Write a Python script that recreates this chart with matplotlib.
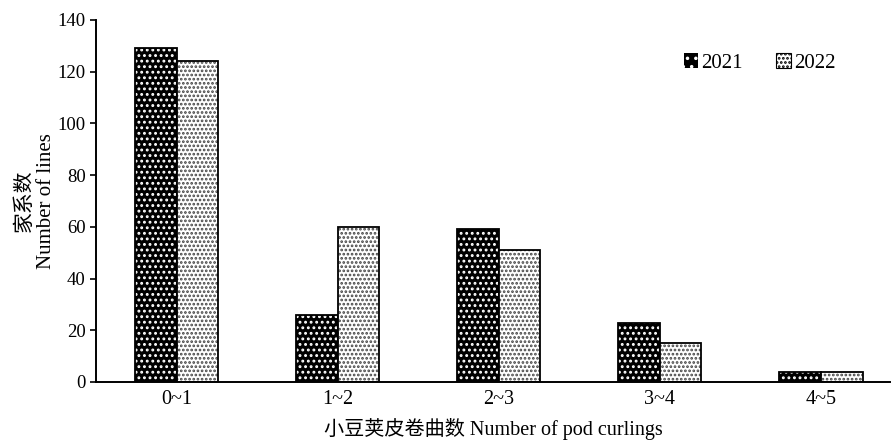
import matplotlib.pyplot as plt
import numpy as np

plt.rcParams['font.family'] = ['Liberation Serif', 'Noto Sans CJK SC']
plt.rcParams['hatch.linewidth'] = 1.3

cats = ['0~1', '1~2', '2~3', '3~4', '4~5']
y2021 = [129, 26, 59, 23, 4]
y2022 = [124, 60, 51, 15, 4]

fig = plt.figure(figsize=(8.94, 4.43), dpi=100)
ax = fig.add_axes([0.1074, 0.1377, 0.888, 0.8172])

x = np.arange(len(cats))
w = 0.26

# 2021: black with white dots
ax.bar(x - w/2, y2021, w, color='black', edgecolor='white', hatch='...', linewidth=0)
ax.bar(x - w/2, y2021, w, fill=False, edgecolor='black', linewidth=1.3)
# 2022: white with dense black dots
ax.bar(x + w/2, y2022, w, color='white', edgecolor='#444444', hatch='....', linewidth=0)
ax.bar(x + w/2, y2022, w, fill=False, edgecolor='black', linewidth=1.3)

# legend proxies
h1 = plt.Rectangle((0, 0), 1, 1, facecolor='black', edgecolor='white', hatch='..', linewidth=0)
h2 = plt.Rectangle((0, 0), 1, 1, facecolor='white', edgecolor='black', hatch='....', linewidth=0.8)
ax.legend([h1, h2], ['2021', '2022'], ncol=2, frameon=False, loc='upper right',
          bbox_to_anchor=(0.955, 0.96), fontsize=15, handlelength=0.7, handleheight=0.7,
          handletextpad=0.15, columnspacing=1.6)

ax.set_xlim(-0.5, 4.43)
ax.set_ylim(0, 140)
ax.set_yticks(range(0, 141, 20))
ax.set_xticks(x)
ax.set_xticklabels(cats)
ax.tick_params(axis='x', length=0, labelsize=14.5, pad=6)
ax.tick_params(axis='y', length=4, width=1.2, direction='out', labelsize=13.5)
for s in ['top', 'right']:
    ax.spines[s].set_visible(False)
for s in ['left', 'bottom']:
    ax.spines[s].set_linewidth(1.4)

ax.set_xlabel('小豆荚皮卷曲数 Number of pod curlings', fontsize=14.5, labelpad=6)
ax.set_ylabel('家系数\nNumber of lines', fontsize=15, labelpad=1, linespacing=1.15)

fig.savefig('out.png', dpi=100)
